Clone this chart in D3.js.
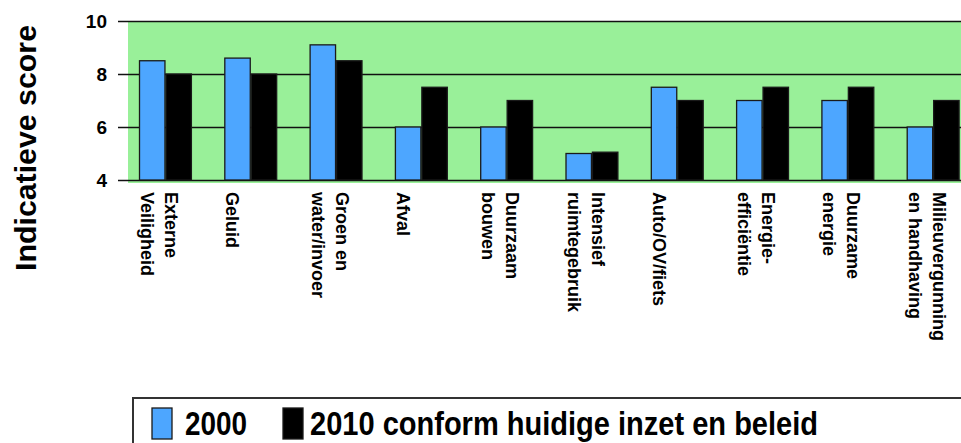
<!DOCTYPE html>
<html>
<head>
<meta charset="utf-8">
<script src="https://cdn.jsdelivr.net/npm/d3@7"></script>
<style>
  html, body { margin: 0; padding: 0; background: #ffffff; }
  svg { display: block; }
  text { font-family: "Liberation Sans Narrow", "Liberation Sans", "DejaVu Sans Condensed", sans-serif; font-weight: bold; fill: #000; }
</style>
</head>
<body>
<svg id="chart" width="961" height="443"></svg>
<script>
// ---- data ----
const categories = [
  "Externe Veiligheid", "Geluid", "Groen en water/invoer", "Afval", "Duurzaam bouwen",
  "Intensief ruimtegebruik", "Auto/OV/fiets", "Energie-efficiëntie", "Duurzame energie",
  "Milieuvergunning en handhaving"
];
const labelLines = [
  ["Externe", "Veiligheid"], ["Geluid"], ["Groen en", "water/invoer"], ["Afval"],
  ["Duurzaam", "bouwen"], ["Intensief", "ruimtegebruik"], ["Auto/OV/fiets"],
  ["Energie-", "efficiëntie"], ["Duurzame", "energie"], ["Milieuvergunning", "en handhaving"]
];
const seriesNames = ["2000", "2010 conform huidige inzet en beleid"];
const values2000 = [8.5, 8.6, 9.1, 6.0, 6.0, 5.0, 7.5, 7.0, 7.0, 6.0];
const values2010 = [8.0, 8.0, 8.5, 7.5, 7.0, 5.05, 7.0, 7.5, 7.5, 7.0];
const yTicks = [4, 6, 8, 10];
const yTitle = "Indicatieve score";

// ---- layout ----
const svg = d3.select("#chart");
const colors = ["#4da6ff", "#000000"];
const plotLeft = 128, plotRight = 961, plotTop = 21, plotBottom = 180;

const x = d3.scaleBand().domain(categories).range([122.8, 975.8]).paddingInner(0.38).paddingOuter(0.19);
const xs = d3.scaleBand().domain(seriesNames).range([0, x.bandwidth()]).padding(0);
const y = d3.scaleLinear().domain([4, 10]).range([plotBottom, plotTop]);

// green background
svg.append("rect")
  .attr("x", plotLeft).attr("y", plotTop)
  .attr("width", plotRight - plotLeft).attr("height", plotBottom - plotTop + 3)
  .attr("fill", "#99f099");

// gridlines + tick labels via axis
const gAxis = svg.append("g").attr("transform", `translate(${plotRight},0)`);
gAxis.call(d3.axisLeft(y).tickValues(yTicks).tickSize(plotRight - 118).tickFormat(d3.format("d")).tickPadding(11));
gAxis.select(".domain").remove();
gAxis.selectAll(".tick line").attr("stroke", "#111").attr("stroke-width", 1.6);
gAxis.selectAll(".tick text")
  .style("font-family", '"Liberation Sans Narrow", "Liberation Sans", sans-serif')
  .style("font-weight", "bold").style("font-size", "19px").attr("fill", "#000");

// bars
const data = categories.map((c, i) => ({ c, vals: [values2000[i], values2010[i]] }));
const groups = svg.append("g").selectAll("g").data(data).join("g")
  .attr("transform", d => `translate(${x(d.c)},0)`);
groups.selectAll("rect").data(d => d.vals.map((v, j) => ({ v, s: seriesNames[j], j })))
  .join("rect")
  .attr("x", d => xs(d.s) + 0.5)
  .attr("y", d => y(d.v))
  .attr("width", xs.bandwidth() - 1)
  .attr("height", d => y(4) - y(d.v))
  .attr("fill", d => colors[d.j])
  .attr("stroke", "#1a1a1a")
  .attr("stroke-width", 1.3);

// category labels (rotated, reading downward)
const lineGap = 24;
categories.forEach((c, i) => {
  const lines = labelLines[i];
  const n = lines.length;
  lines.forEach((ln, k) => {
    const cx = x(c) + 8 + (n - 1 - k) * lineGap;
    svg.append("text")
      .attr("transform", `translate(${cx},192) rotate(90)`)
      .attr("dominant-baseline", "central")
      .attr("text-anchor", "start")
      .style("font-size", "18px")
      .text(ln);
  });
});

// y title
svg.append("text")
  .attr("transform", "translate(26,148) rotate(-90)")
  .attr("text-anchor", "middle")
  .attr("dominant-baseline", "central")
  .attr("textLength", 246).attr("lengthAdjust", "spacingAndGlyphs")
  .style("font-size", "29px")
  .text(yTitle);

// legend
const lg = svg.append("g");
lg.append("rect").attr("x", 133).attr("y", 398).attr("width", 900).attr("height", 80)
  .attr("fill", "none").attr("stroke", "#333").attr("stroke-width", 2);
const legendItems = [
  { name: seriesNames[0], color: colors[0], sx: 152, tx: 185, len: 62 },
  { name: seriesNames[1], color: colors[1], sx: 283, tx: 310, len: 508 }
];
legendItems.forEach(it => {
  lg.append("rect").attr("x", it.sx).attr("y", 408).attr("width", 20).attr("height", 31)
    .attr("fill", it.color).attr("stroke", "#1a1a1a").attr("stroke-width", 1.3);
  lg.append("text").attr("x", it.tx).attr("y", 435)
    .attr("textLength", it.len).attr("lengthAdjust", "spacingAndGlyphs")
    .style("font-size", "33px")
    .text(it.name);
});
</script>
</body>
</html>
